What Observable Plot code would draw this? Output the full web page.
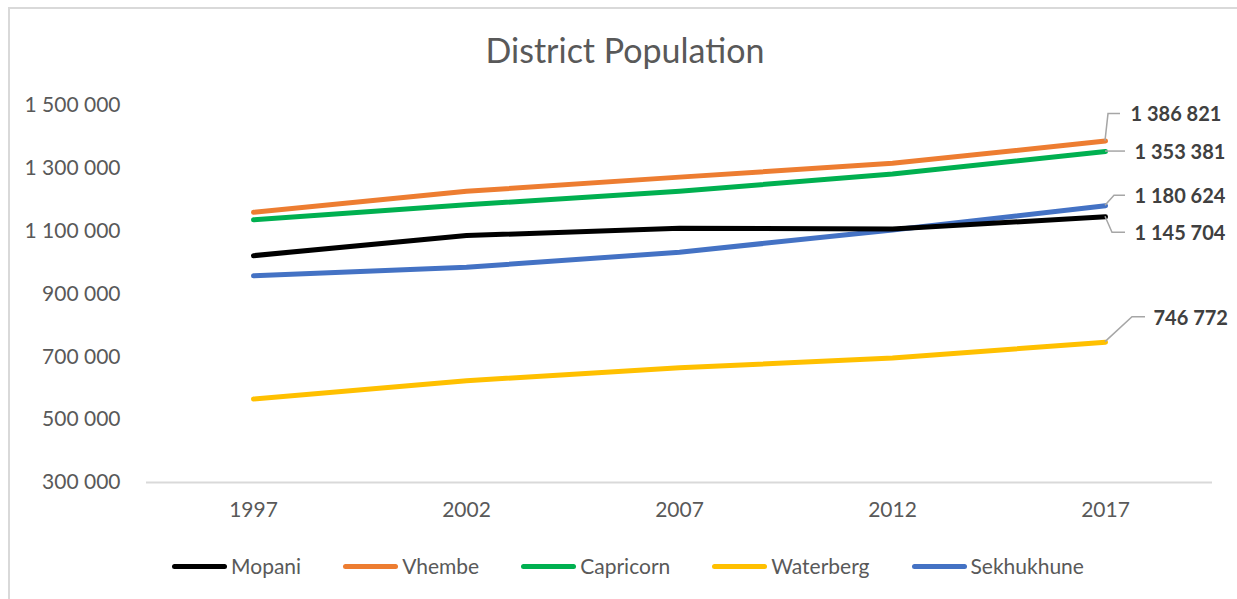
<!DOCTYPE html>
<html>
<head>
<meta charset="utf-8">
<script src="https://cdn.jsdelivr.net/npm/d3@7"></script>
<script src="https://cdn.jsdelivr.net/npm/@observablehq/plot@0.6"></script>
<style>
  html, body { margin: 0; padding: 0; background: #fff; }
  #wrap { position: relative; width: 1237px; height: 599px; overflow: hidden; font-family: Lato, "Open Sans", sans-serif; }
  #frame { position: absolute; left: 8px; top: 7px; width: 1300px; height: 700px; border-left: 2px solid #d9d9d9; border-top: 2px solid #d9d9d9; }
  #title { position: absolute; left: 0; width: 1250px; top: 28px; text-align: center; font-size: 34px; color: #595959; line-height: 44px; }
  #chart { position: absolute; left: 0; top: 0; }
  #legend { position: absolute; left: 0; width: 1256px; top: 553px; display: flex; justify-content: center; align-items: center; font-size: 21px; color: #595959; line-height: 26px; }
  .item { display: flex; align-items: center; margin: 0 21px; }
  .swatch { width: 55px; height: 5px; border-radius: 3px; margin-right: 4px; }
</style>
</head>
<body>
<div id="wrap">
  <div id="frame"></div>
  <div id="chart"></div>
  <div id="title">District Population</div>
  <div id="legend"></div>
</div>
<script>
// ---- data ----
const years = [1997, 2002, 2007, 2012, 2017];
const seriesNames = ["Mopani", "Vhembe", "Capricorn", "Waterberg", "Sekhukhune"];
const mopani     = [1022000, 1086000, 1109000, 1107000, 1145704];
const vhembe     = [1160000, 1227000, 1272000, 1316000, 1386821];
const capricorn  = [1136000, 1184000, 1227000, 1282000, 1353381];
const waterberg  = [566000, 624000, 665000, 696000, 746772];
const sekhukhune = [958000, 985000, 1033000, 1104000, 1180624];
const yTicks = [300000, 500000, 700000, 900000, 1100000, 1300000, 1500000];
const colors = ["#000000", "#ED7D31", "#00B050", "#FFC000", "#4472C4"];

const valuesBySeries = [mopani, vhembe, capricorn, waterberg, sekhukhune];
const rows = [];
seriesNames.forEach((s, i) => years.forEach((yr, j) => rows.push({series: s, year: yr, value: valuesBySeries[i][j]})));
const last = seriesNames.map((s, i) => ({series: s, year: years[years.length - 1], value: valuesBySeries[i][years.length - 1]}));

// label layout (pixel offsets from the last point): leader path and text anchor
const labelLayout = {
  Mopani:     {leader: [[0,0],[7,16],[20,16]],   dx: 29, dy: 17},
  Vhembe:     {leader: [[0,0],[3,-27],[15,-27]], dx: 25, dy: -26},
  Capricorn:  {leader: [[0,0],[20,0]],           dx: 29, dy: 1},
  Waterberg:  {leader: [[0,0],[27,-25],[40,-25]],dx: 48, dy: -24},
  Sekhukhune: {leader: [[0,0],[9,-10],[20,-10]], dx: 29, dy: -9}
};

const fmt = v => d3.format(",")(v).replace(/,/g, " ");

const drawOrder = ["Vhembe", "Capricorn", "Waterberg", "Sekhukhune", "Mopani"];

const marks = [
  Plot.ruleY([300000], {stroke: "#d9d9d9", strokeWidth: 2}),
  ...drawOrder.map(s => Plot.line(rows.filter(r => r.series === s), {
    x: "year", y: "value", stroke: colors[seriesNames.indexOf(s)], strokeWidth: 5,
    strokeLinecap: "round", strokeLinejoin: "round"
  })),
  (index, scales) => {
    const g = d3.create("svg:g");
    last.forEach(d => {
      const px = scales.x(d.year), py = scales.y(d.value);
      const pts = labelLayout[d.series].leader.map(([a, b]) => [px + a, py + b]);
      g.append("path").attr("d", d3.line()(pts)).attr("fill", "none")
        .attr("stroke", "#a6a6a6").attr("stroke-width", 1.5);
    });
    return g.node();
  },
  ...last.map(d => Plot.text([d], {
    x: "year", y: "value", text: e => fmt(e.value),
    dx: labelLayout[d.series].dx, dy: labelLayout[d.series].dy,
    textAnchor: "start", fontWeight: "bold", fill: "#404040", fontSize: 20
  })),
  Plot.axisY({ticks: yTicks, tickFormat: fmt, tickSize: 0, tickPadding: 26, fontSize: 21, label: null}),
  Plot.axisX({tickSize: 0, tickPadding: 20, fontSize: 21, tickFormat: d => String(d), label: null})
];

const chart = Plot.plot({
  width: 1237,
  height: 542,
  marginTop: 105,
  marginBottom: 60,
  marginLeft: 146,
  marginRight: 25,
  style: {fontFamily: "Lato, 'Open Sans', sans-serif", fontSize: "20px", color: "#595959", background: "transparent"},
  x: {type: "point", domain: years, padding: 0.5, axis: null},
  y: {domain: [300000, 1500000], axis: null},
  marks
});
document.getElementById("chart").appendChild(chart);

// legend
const legend = document.getElementById("legend");
seriesNames.forEach((s, i) => {
  const item = document.createElement("div");
  item.className = "item";
  const sw = document.createElement("div");
  sw.className = "swatch";
  sw.style.background = colors[i];
  const t = document.createElement("span");
  t.textContent = s;
  item.appendChild(sw); item.appendChild(t);
  legend.appendChild(item);
});
</script>
</body>
</html>
